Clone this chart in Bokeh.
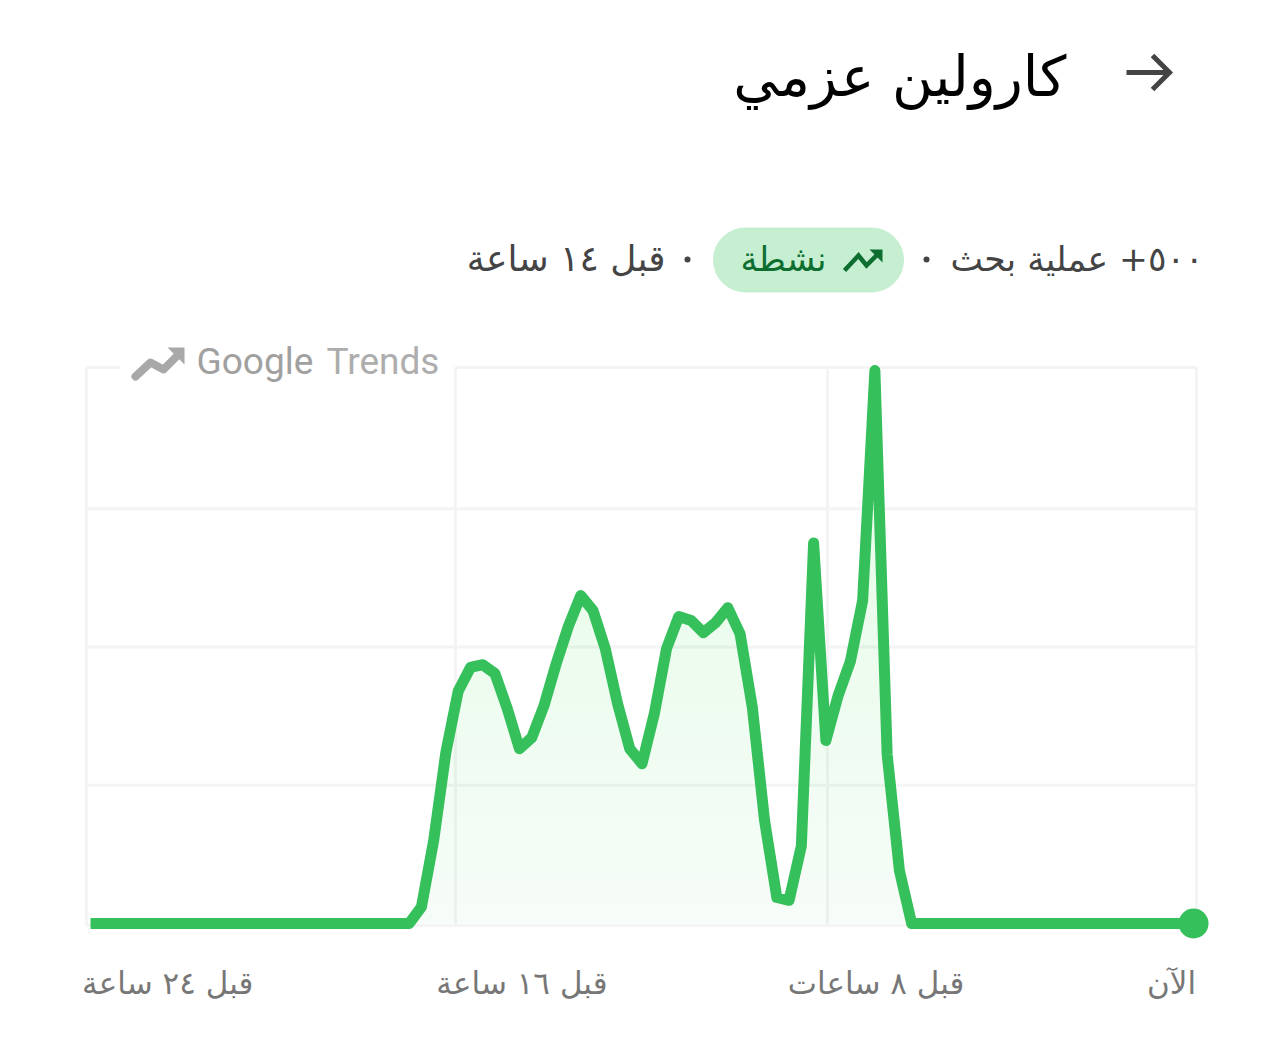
from bokeh.plotting import figure
from bokeh.models import FixedTicker, LinearAxis, Range1d
from bokeh.core.properties import value
from bokeh.embed import file_html
from bokeh.resources import INLINE
import numpy as np

# ---- data: interest, 0-100, one value per step over 24 h
zeros_before = [0] * 27
active = [3, 15, 31, 42, 46.3, 46.8, 45.2, 38.9, 31.6, 33.6, 39.4, 47, 53.8, 59.3, 56.6,
          49.7, 39.8, 31.6, 28.9, 37.9, 49.7, 55.5, 54.8, 52.6, 54.4, 57.1, 52.4, 39.1,
          18.6, 4.7, 4.2, 14, 68.8, 33.1, 41.2, 47.4, 58.4, 100, 30.6, 9.6, 0]
zeros_after = [0] * 23
series = zeros_before + active + zeros_after
steps = list(range(len(series)))

title_text = "كارولين عزمي"
searches_text = "٥٠٠+ عملية بحث"
status_text = "نشطة"
since_text = "قبل ١٤ ساعة"
tick_labels = ["قبل ٢٤ ساعة", "قبل ١٦ ساعة", "قبل ٨ ساعات", "الآن"]

# ---- pixel to data helpers
FONT = "DejaVu Sans"
W, H = 1272, 1054
FRAME_BOTTOM = 950
def X(px): return (px - 90) / 12.256
def Y(py): return (923 - py) / 5.53

p = figure(width=W, height=H, output_backend="svg", toolbar_location=None,
           x_range=Range1d(X(0), X(W)), y_range=Range1d(Y(FRAME_BOTTOM), Y(0)),
           min_border_left=0, min_border_right=0, min_border_top=0,
           min_border_bottom=H - FRAME_BOTTOM,
           x_axis_type=None, y_axis_type=None, outline_line_color=None,
           background_fill_color="white", border_fill_color="white")
p.xgrid.visible = False
p.ygrid.visible = False

# ---- grid box, with a gap in the top border behind the logo
GRID = "#f4f4f4"
gx0, gx1, gy0, gy1 = X(86), X(1196), Y(925), Y(367)
h_levels = [gy0, 25, 50, 75]
v_lines = [gx0, X(455), X(827), gx1]
p.segment(x0=[gx0] * 4, x1=[gx1] * 4, y0=h_levels, y1=h_levels, line_color=GRID, line_width=3)
p.segment(x0=v_lines, x1=v_lines, y0=[gy0] * 4, y1=[gy1] * 4, line_color=GRID, line_width=3)
p.segment(x0=[gx0, X(455)], x1=[X(120), gx1], y0=[gy1, gy1], y1=[gy1, gy1], line_color=GRID, line_width=3)

# ---- area with vertical fade built of thin layers
v = np.array(series, dtype=float)
x = np.array(steps, dtype=float)
GREEN = "#36c05c"
p.varea(x=x, y1=0, y2=v, fill_color=GREEN, fill_alpha=0.045)
for lvl in np.arange(4, 64, 5):
    p.varea(x=x, y1=np.minimum(v, lvl), y2=v, fill_color=GREEN, fill_alpha=0.004)

p.line(x, v, line_color=GREEN, line_width=11, line_join="round", line_cap="butt")
p.scatter([steps[-1]], [series[-1]], size=30, marker="circle", fill_color=GREEN, line_color=None)

# ---- x axis labels
tick_pos = [6.3, 35.2, 64.1, 88.2]
ax = LinearAxis(ticker=FixedTicker(ticks=tick_pos),
                major_label_overrides=dict(zip(tick_pos, tick_labels)),
                axis_line_color=None, major_tick_line_color=None, minor_tick_line_color=None,
                major_label_text_color="#777777", major_label_text_font=FONT,
                major_label_text_font_size="31px", major_label_standoff=8)
p.add_layout(ax, "below")

# ---- header
def txt(px, py, s, size, color, align="right", font=FONT, style="normal"):
    p.text([X(px)], [Y(py)], text=[s], text_font=value(font), text_font_size=f"{size}px",
           text_color=color, text_align=align, text_baseline="middle", text_font_style=style)

txt(1066, 76, title_text, 56, "#000000")
p.multi_line([[X(1126), X(1169)], [X(1152), X(1169), X(1152)]],
             [[Y(72), Y(72)], [Y(55), Y(72), Y(89)]],
             line_color="#444444", line_width=5, line_join="miter")

txt(1203, 258, searches_text, 34.5, "#444444")
p.scatter([X(926), X(687)], [Y(259), Y(259)], size=6, marker="circle",
          fill_color="#444444", line_color=None)

# pill: a thick round-capped line
p.line([X(745), X(871)], [Y(259.5), Y(259.5)], line_width=65, line_cap="round", line_color="#c5efd0")
txt(826, 258, status_text, 34, "#0d6e30")
p.line([X(844), X(858), X(866), X(879)], [Y(270), Y(255), Y(265), Y(252)],
       line_color="#0d6e30", line_width=4.5, line_join="miter")
p.patch([X(869), X(882), X(882)], [Y(249), Y(249), Y(262)], fill_color="#0d6e30", line_color=None)

txt(665, 258, since_text, 36, "#444444")

# logo
LOGO = "#a8a8a8"
p.line([X(135), X(150), X(163), X(177)], [Y(376), Y(362), Y(369), Y(355)],
       line_color=LOGO, line_width=8, line_join="round", line_cap="round")
p.patch([X(167), X(184), X(184)], [Y(347), Y(347), Y(364)], fill_color=LOGO, line_color=None)
txt(196, 361, "Google", 37, "#a0a0a0", align="left", font="Roboto")
txt(326, 361, "Trends", 37, "#adadad", align="left", font="Roboto")

open("out.html", "w").write(file_html(p, INLINE))
